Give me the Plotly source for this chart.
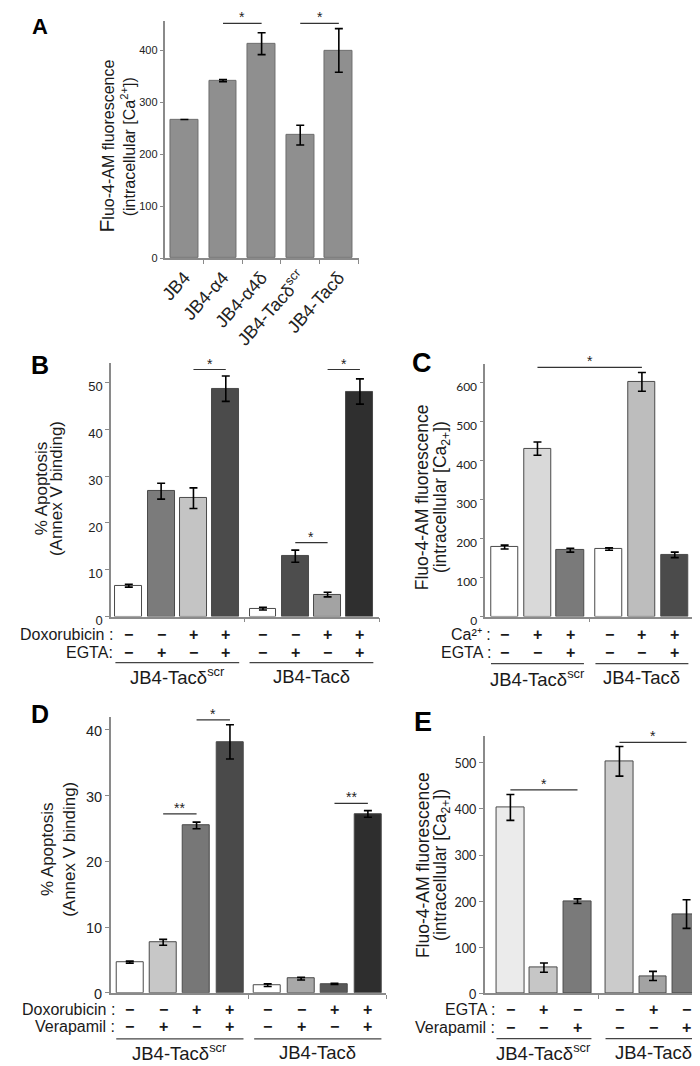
import plotly.graph_objects as go

W, H = 700, 1066
FONT = "Liberation Sans"
TICKFONT_CE = "Lato"
MINUS, PLUS = "−", "+"

# ---------------- DATA ----------------
# Panel A
A_labels = ["JB4", "JB4-α4", "JB4-α4δ", "JB4-Tacδ<sup>scr</sup>", "JB4-Tacδ"]
A_values = [267, 342, 413, 237, 400]
A_errors = [0, 2, 21, 19, 42]
A_sig = [(1, 2, 452, "*"), (3, 4, 452, "*")]
A_ticks = [0, 100, 200, 300, 400]

# Panel B
B_values = [6.6, 26.8, 25.3, 48.7, 1.7, 12.9, 4.7, 48.1]
B_errors = [0.3, 1.7, 2.2, 2.7, 0.3, 1.3, 0.5, 2.7]
B_dox = [MINUS, MINUS, PLUS, PLUS, MINUS, MINUS, PLUS, PLUS]
B_egta = [MINUS, PLUS, MINUS, PLUS, MINUS, PLUS, MINUS, PLUS]
B_sig = [(2, 3, 52.8, "*"), (5, 6, 15.8, "*"), (6, 7, 52.8, "*")]
B_ticks = [0, 10, 20, 30, 40, 50]

# Panel C
C_values = [178, 430, 170, 173, 601, 158]
C_errors = [5, 17, 5, 3, 24, 7]
C_ca = [MINUS, PLUS, PLUS, MINUS, PLUS, PLUS]
C_egta = [MINUS, MINUS, PLUS, MINUS, MINUS, PLUS]
C_sig = [(1, 4, 638, "*")]
C_ticks = [0, 100, 200, 300, 400, 500, 600]

# Panel D
D_values = [4.66, 7.67, 25.45, 38.15, 1.15, 2.15, 1.35, 27.2]
D_errors = [0.15, 0.45, 0.5, 2.6, 0.2, 0.2, 0.1, 0.5]
D_dox = [MINUS, MINUS, PLUS, PLUS, MINUS, MINUS, PLUS, PLUS]
D_vera = [MINUS, PLUS, MINUS, PLUS, MINUS, PLUS, MINUS, PLUS]
D_sig = [(1, 2, 27.2, "**"), (2, 3, 41.5, "*"), (6, 7, 28.8, "**")]
D_ticks = [0, 10, 20, 30, 40]

# Panel E
E_values = [403, 56, 200, 503, 38, 172]
E_errors = [28, 10, 5, 32, 10, 31]
E_egta = [MINUS, PLUS, MINUS, MINUS, PLUS, MINUS]
E_vera = [MINUS, MINUS, PLUS, MINUS, MINUS, PLUS]
E_sig = [(0, 2, 441, "*"), (3, 5, 544, "*")]
E_ticks = [0, 100, 200, 300, 400, 500]

GROUPS = ["JB4-Tacδ<sup>scr</sup>", "JB4-Tacδ"]

# ---------------- STYLE ----------------
A_color = "#8f8f8f"
B_colors = ["#ffffff", "#7b7b7b", "#c4c4c4", "#4b4b4b", "#ffffff", "#4d4d4d", "#a3a3a3", "#2f2f2f"]
C_colors = ["#ffffff", "#d9d9d9", "#7a7a7a", "#ffffff", "#bdbdbd", "#4b4b4b"]
D_colors = ["#ffffff", "#c7c7c7", "#777777", "#4a4a4a", "#ffffff", "#a8a8a8", "#585858", "#2e2e2e"]
E_colors = ["#ebebeb", "#c6c6c6", "#7a7a7a", "#cbcbcb", "#a3a3a3", "#787878"]

AXIS_COLOR = "#8a8a8a"
TEXT_COLOR = "#1a1a1a"


def px_x(p):
    return p / W


def px_y(p):
    return 1 - p / H


fig = go.Figure()
layout = dict(
    width=W, height=H, margin=dict(l=0, r=0, t=0, b=0),
    paper_bgcolor="white", plot_bgcolor="white", showlegend=False,
    font=dict(family=FONT, color=TEXT_COLOR),
    bargap=0,
)
annotations = []
shapes = []


def yaxis_cfg(dom, rng, ticks, tsize, tfamily, anchor, shift=0):
    return dict(domain=dom, range=rng, tickvals=ticks, showline=True, linecolor=AXIS_COLOR,
                linewidth=1.5, ticks="outside", ticklen=4, tickcolor=AXIS_COLOR, tickwidth=1,
                showgrid=False, zeroline=False, anchor=anchor, ticklabelshift=shift,
                tickfont=dict(size=tsize, family=tfamily, color="#222222"), fixedrange=True)


def y_title(lines, centers_x, center_y, sizes):
    for txt, cx, fs in zip(lines, centers_x, sizes):
        annotations.append(dict(xref="paper", yref="paper", x=px_x(cx), y=px_y(center_y),
                                text=txt, textangle=-90, showarrow=False, xanchor="center",
                                yanchor="middle", font=dict(size=fs, family=FONT, color=TEXT_COLOR)))


# ---------------- PANEL A ----------------
fig.add_trace(go.Bar(
    x=A_labels, y=A_values, xaxis="x", yaxis="y", width=0.72,
    marker=dict(color=A_color, line=dict(color="#6e6e6e", width=1)),
    error_y=dict(type="data", array=A_errors, color="black", thickness=1.6, width=4),
))
layout["xaxis"] = dict(domain=[px_x(152), px_x(347)], range=[-0.49, 4.51], type="category",
                       showline=True, linecolor=AXIS_COLOR, linewidth=1.5, ticks="outside",
                       tickson="boundaries", ticklen=4, tickcolor=AXIS_COLOR, tickangle=-48,
                       tickfont=dict(size=18, family=FONT, color="#222222"), anchor="y",
                       showgrid=False, fixedrange=True)
layout["yaxis"] = yaxis_cfg([px_y(253), px_y(13)], [0, 457], A_ticks, 11, FONT, "x")
for i, j, lvl, lab in A_sig:
    shapes.append(dict(type="line", xref="x", yref="y", x0=i, x1=j, y0=lvl, y1=lvl,
                       line=dict(color="#333333", width=1.2)))
    annotations.append(dict(xref="x", yref="y", x=(i + j) / 2, y=lvl, text=lab, showarrow=False,
                            yanchor="bottom", yshift=-4, font=dict(size=14, color="#222222")))
y_title(['<span style="font-size:21px">F</span>luo-4-AM fluorescence',
         "(intracellular [Ca<sup>2+</sup>])"], [92, 115], 140, [16, 16])


# ---------------- GROUPED PANELS ----------------
def grouped_panel(idx, values, errors, colors, rows, sig, ticks, geo):
    xa = "x%d" % idx
    ya = "y%d" % idx
    nper = geo["nper"]
    pos = [(k % nper) + (k // nper) * (nper - 1 + geo["gap"]) for k in range(len(values))]
    fig.add_trace(go.Bar(
        x=pos, y=values, xaxis=xa, yaxis=ya, width=geo["bw"],
        marker=dict(color=colors, line=dict(color="#4a4a4a", width=1)),
        error_y=dict(type="data", array=errors, color="black", thickness=1.6, width=4),
    ))
    xr = geo["xr"]
    xd = [px_x(geo["x0"]), px_x(geo["x1"])]
    divider = (pos[nper - 1] + pos[nper]) / 2
    layout["xaxis%d" % idx] = dict(domain=xd, range=xr, showline=True, linecolor=AXIS_COLOR,
                                   linewidth=1.5, ticks="outside", ticklen=4, tickcolor=AXIS_COLOR,
                                   tickvals=[divider, xr[1]], showticklabels=False, showgrid=False,
                                   zeroline=False, anchor=ya, fixedrange=True)
    layout["yaxis%d" % idx] = yaxis_cfg([px_y(geo["y0"]), px_y(geo["ytop"])], [0, geo["ymax"]],
                                        ticks, geo["tsize"], geo["tfont"], xa, geo["tshift"])

    def to_paper(v):
        return xd[0] + (v - xr[0]) / (xr[1] - xr[0]) * (xd[1] - xd[0])

    # significance
    for i, j, lvl, lab in sig:
        shapes.append(dict(type="line", xref=xa, yref=ya, x0=pos[i], x1=pos[j], y0=lvl, y1=lvl,
                           line=dict(color="#333333", width=1.2)))
        annotations.append(dict(xref=xa, yref=ya, x=(pos[i] + pos[j]) / 2, y=lvl, text=lab,
                                showarrow=False, yanchor="bottom", yshift=-4,
                                font=dict(size=14, color="#222222")))
    # condition rows
    for (label, signs), ry in zip(rows, geo["row_y"]):
        annotations.append(dict(xref="paper", yref="paper", x=px_x(geo["label_x"]), y=px_y(ry),
                                text=label, showarrow=False, xanchor="right", yanchor="middle",
                                borderpad=0, font=dict(size=16, family=FONT, color=TEXT_COLOR)))
        for p, s in zip(pos, signs):
            annotations.append(dict(xref=xa, yref="paper", x=p, y=px_y(ry), text="<b>%s</b>" % s,
                                    showarrow=False, xanchor="center", yanchor="middle",
                                    borderpad=0, font=dict(size=16, family=FONT, color=TEXT_COLOR)))
    # group underlines + labels
    ngroups = len(values) // nper
    for g in range(ngroups):
        first = pos[g * nper] - geo["bw"] / 2
        last = pos[g * nper + nper - 1] + geo["bw"] / 2
        shapes.append(dict(type="line", xref="paper", yref="paper", x0=to_paper(first),
                           x1=to_paper(last), y0=px_y(geo["line_y"]), y1=px_y(geo["line_y"]),
                           line=dict(color="#444444", width=1.2)))
        annotations.append(dict(xref=xa, yref="paper", x=(pos[g * nper] + pos[g * nper + nper - 1]) / 2,
                                y=px_y(geo["group_y"]), text=GROUPS[g], showarrow=False,
                                xanchor="center", yanchor="middle",
                                font=dict(size=18.5, family=FONT, color=TEXT_COLOR)))
    # y title
    y_title(geo["title"], geo["title_x"], geo["title_y"], [geo["title_size"]] * 2)


APOP = ["% Apoptosis", "(Annex V binding)"]
FLUO = ["Fluo-4-AM fluorescence", "(intracellular [Ca<sub>2+</sub>])"]

grouped_panel(2, B_values, B_errors, B_colors,
              [("Doxorubicin :", B_dox), ("EGTA:", B_egta)], B_sig, B_ticks,
              dict(nper=4, gap=1.15, bw=0.83, xr=[-0.55, 7.75], x0=97, x1=368, ytop=359, y0=615.5,
                   ymax=54.2, tsize=13, tfont=FONT, tshift=4, row_y=[634, 652], label_x=100,
                   line_y=662, group_y=676, title=APOP, title_x=[27, 42], title_y=486, title_size=17))
grouped_panel(3, C_values, C_errors, C_colors,
              [("Ca²⁺ :", C_ca), ("EGTA :", C_egta)], C_sig, C_ticks,
              dict(nper=3, gap=1.18, bw=0.83, xr=[-0.59, 5.74], x0=475, x1=685, ytop=360, y0=615.5,
                   ymax=647, tsize=12, tfont=TICKFONT_CE, tshift=4, row_y=[633.5, 652], label_x=482,
                   line_y=663, group_y=677.5, title=FLUO, title_x=[412, 431], title_y=495,
                   title_size=17.5))
grouped_panel(4, D_values, D_errors, D_colors,
              [("Doxorubicin :", D_dox), ("Verapamil :", D_vera)], D_sig, D_ticks,
              dict(nper=4, gap=1.13, bw=0.81, xr=[-0.57, 7.68], x0=96.7, x1=375, ytop=717.3, y0=996,
                   ymax=41.9, tsize=14.5, tfont=FONT, tshift=1, row_y=[1013, 1030.5], label_x=102,
                   line_y=1042.7, group_y=1056, title=APOP, title_x=[33, 55], title_y=851,
                   title_size=17))
grouped_panel(5, E_values, E_errors, E_colors,
              [("EGTA :", E_egta), ("Verapamil :", E_vera)], E_sig, E_ticks,
              dict(nper=3, gap=1.25, bw=0.83, xr=[-0.77, 5.83], x0=474.3, x1=698, ytop=736.7, y0=996.7,
                   ymax=557, tsize=12.5, tfont=TICKFONT_CE, tshift=1, row_y=[1013, 1031], label_x=486,
                   line_y=1042.3, group_y=1056, title=FLUO, title_x=[412, 431], title_y=867,
                   title_size=17.5))

# panel letters
for letter, lx, ly, fs in [("A", 15, 4, 22), ("B", 14, 345, 25), ("C", 399, 342, 27),
                           ("D", 14, 698, 25), ("E", 401, 705, 27)]:
    annotations.append(dict(xref="paper", yref="paper", x=px_x(lx), y=px_y(ly), text="<b>%s</b>" % letter,
                            showarrow=False, xanchor="left", yanchor="top",
                            font=dict(size=fs, family=FONT, color="black")))

layout["annotations"] = annotations
layout["shapes"] = shapes
fig.update_layout(**layout)
fig.write_html("out.html")
